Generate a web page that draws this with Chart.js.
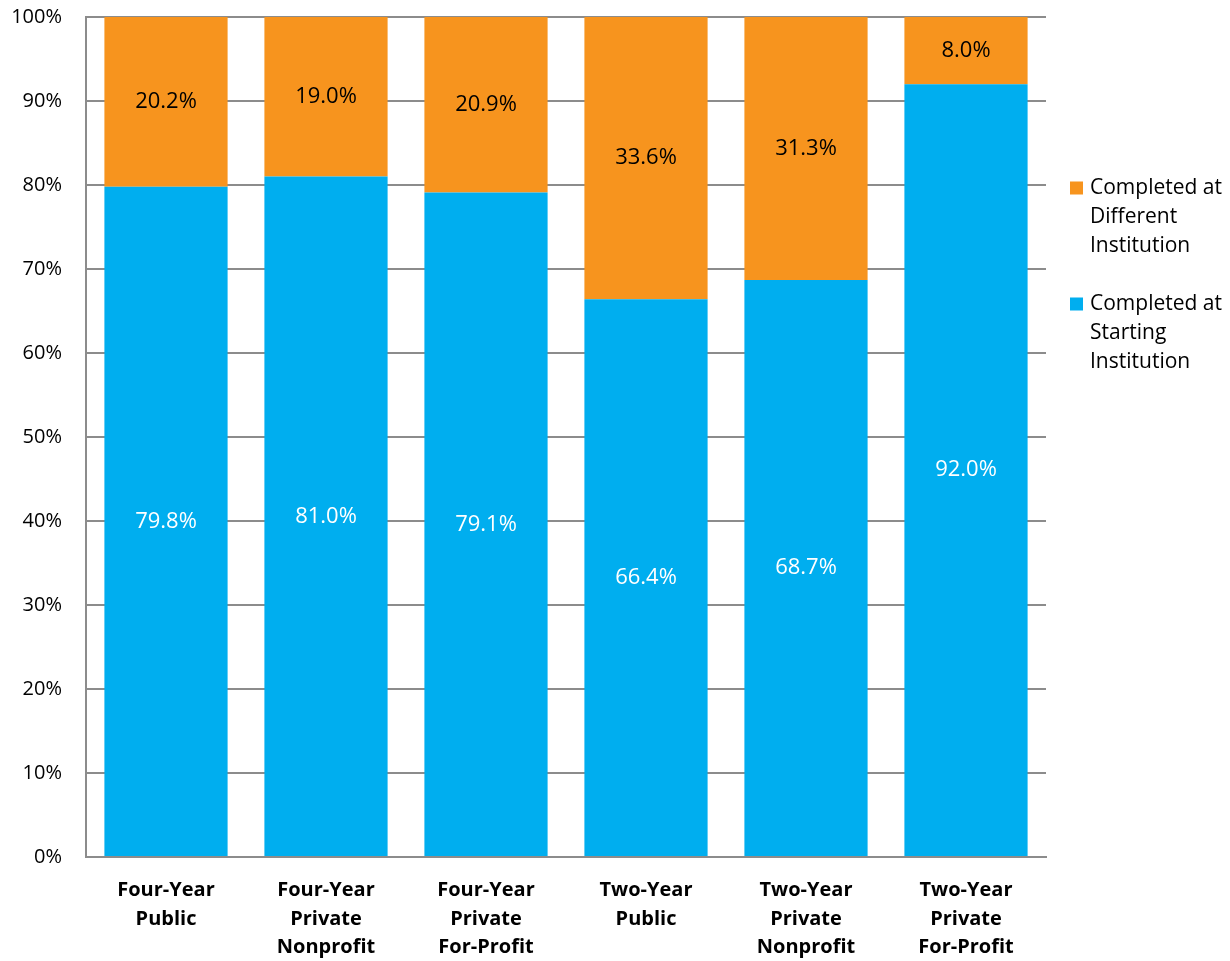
<!DOCTYPE html>
<html>
<head>
<meta charset="utf-8">
<script src="https://cdn.jsdelivr.net/npm/chart.js@4"></script>
<style>
  html, body { margin: 0; padding: 0; background: #fff; }
  #wrap { width: 1230px; height: 961px; }
  canvas { display: block; }
</style>
</head>
<body>
<div id="wrap"><canvas id="completionChart" width="1230" height="961"></canvas></div>
<script>
const categories = [
    ['Four-Year', 'Public'],
    ['Four-Year', 'Private', 'Nonprofit'],
    ['Four-Year', 'Private', 'For-Profit'],
    ['Two-Year', 'Public'],
    ['Two-Year', 'Private', 'Nonprofit'],
    ['Two-Year', 'Private', 'For-Profit']
];
const startingInstitution = [79.8, 81.0, 79.1, 66.4, 68.7, 92.0];
const differentInstitution = [20.2, 19.0, 20.9, 33.6, 31.3, 8.0];
const yTicks = [0, 10, 20, 30, 40, 50, 60, 70, 80, 90, 100];

const FONT = "'Open Sans', 'Noto Sans', sans-serif";
const ORANGE = '#F7941E';
const BLUE = '#00AEEF';

// value labels centred inside each bar segment
const segmentLabels = {
    id: 'segmentLabels',
    afterDatasetsDraw(chart) {
        const ctx = chart.ctx;
        ctx.save();
        ctx.font = '22px ' + FONT;
        ctx.textAlign = 'center';
        ctx.textBaseline = 'middle';
        chart.data.datasets.forEach((ds, i) => {
            const meta = chart.getDatasetMeta(i);
            meta.data.forEach((bar, j) => {
                const mid = (bar.y + bar.base) / 2;
                ctx.fillStyle = ds.labelColor;
                ctx.fillText(ds.data[j].toFixed(1) + '%', bar.x, mid);
            });
        });
        ctx.restore();
    }
};

// legend on the right, wrapped over several lines
const sideLegend = {
    id: 'sideLegend',
    afterDraw(chart) {
        const ctx = chart.ctx;
        const area = chart.chartArea;
        const x = area.right + 24;
        const items = [
            { color: ORANGE, lines: ['Completed at', 'Different', 'Institution'], y: 188 },
            { color: BLUE, lines: ['Completed at', 'Starting', 'Institution'], y: 304 }
        ];
        ctx.save();
        ctx.font = '21px ' + FONT;
        ctx.textBaseline = 'middle';
        ctx.textAlign = 'left';
        items.forEach(item => {
            ctx.fillStyle = item.color;
            ctx.fillRect(x, item.y - 6.5, 13, 13);
            ctx.fillStyle = '#000';
            item.lines.forEach((line, k) => {
                ctx.fillText(line, x + 20, item.y + k * 29);
            });
        });
        ctx.restore();
    }
};

new Chart(document.getElementById('completionChart'), {
    type: 'bar',
    data: {
        labels: categories,
        datasets: [{
            label: 'Completed at Starting Institution',
            data: startingInstitution,
            backgroundColor: BLUE,
            labelColor: '#fff'
        }, {
            label: 'Completed at Different Institution',
            data: differentInstitution,
            backgroundColor: ORANGE,
            labelColor: '#000'
        }]
    },
    options: {
        responsive: false,
        animation: false,
        layout: { padding: { top: 17, right: 184, bottom: 0, left: 0 } },
        datasets: { bar: { categoryPercentage: 1, barPercentage: 0.77 } },
        plugins: {
            legend: { display: false },
            tooltip: { enabled: false }
        },
        scales: {
            x: {
                stacked: true,
                grid: { display: false, drawTicks: false },
                border: { color: '#8c8c8c', width: 2 },
                afterFit(scale) {
                    scale.height = 104;
                    scale.paddingLeft = 0;
                    scale.paddingRight = 0;
                },
                ticks: {
                    color: '#000',
                    padding: 19,
                    maxRotation: 0,
                    font: { family: FONT, size: 20, weight: 'bold', lineHeight: 1.43 }
                }
            },
            y: {
                stacked: true,
                min: 0,
                max: 100,
                afterBuildTicks(axis) { axis.ticks = yTicks.map(v => ({ value: v })); },
                afterFit(scale) {
                    scale.width = 86;
                    scale.paddingTop = 0;
                    scale.paddingBottom = 0;
                },
                grid: { color: '#8c8c8c', lineWidth: 2, drawTicks: false },
                border: { color: '#8c8c8c', width: 2 },
                ticks: {
                    color: '#000',
                    padding: 24,
                    font: { family: FONT, size: 20 },
                    callback: v => v + '%'
                }
            }
        }
    },
    plugins: [segmentLabels, sideLegend]
});
</script>
</body>
</html>
